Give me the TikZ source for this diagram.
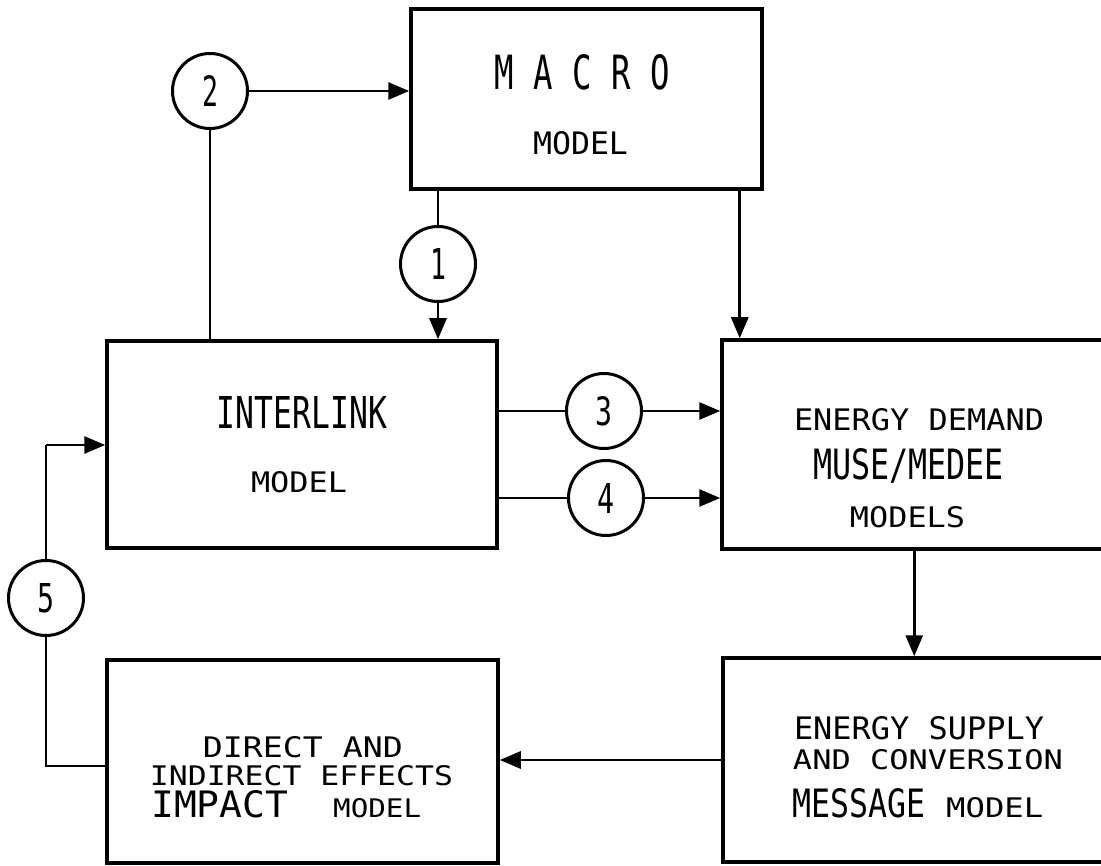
\documentclass[tikz,border=0pt]{standalone}
\usepackage{fontspec}
\setmonofont{DejaVu Sans Mono}
\usepackage{graphicx}
\usetikzlibrary{arrows.meta,calc}
\newcommand{\fitt}[3]{\resizebox{#1pt}{#2pt}{\ttfamily #3}}
\begin{document}
\begin{tikzpicture}[x=1pt,y=-1pt,
  box/.style={draw, line width=3.5pt, rectangle, inner sep=0},
  num/.style={draw, circle, line width=3pt, minimum size=75pt, inner sep=0},
  lbl/.style={inner sep=0, anchor=base},
  lblw/.style={inner sep=0, anchor=base west},
  con/.style={line width=2.8pt},
  arr/.style={con, -{Triangle[length=21pt,width=17pt]}}]
\useasboundingbox (0,0) rectangle (1101,866);
\fill[white] (0,0) rectangle (1101,866);
\clip (0,0) rectangle (1101,866);

% boxes
\node[box, minimum width=351pt, minimum height=180pt] (macro) at (586.5,99) {};
\node[box, minimum width=390pt, minimum height=207pt] (inter) at (302,444.5) {};
\node[box, minimum width=393pt, minimum height=209pt] (ed) at (918.5,444.5) {};
\node[box, minimum width=392pt, minimum height=204pt] (msg) at (919,760) {};
\node[box, minimum width=391pt, minimum height=203pt] (impact) at (302.5,761.5) {};

% labels
\node[lbl] (tm1) at (582.5,90) {\fitt{175}{35}{M A C R O}};
\node[lbl] (tm2) at (580.5,155) {\fitt{95}{23}{MODEL}};
\node[lbl] (ti1) at (302,429) {\fitt{170}{32}{INTERLINK}};
\node[lbl] (ti2) at (299,493) {\fitt{96}{21}{MODEL}};
\node[lbl] (te1) at (919,431) {\fitt{250}{22}{ENERGY DEMAND}};
\node[lbl] (te2) at (908.5,479) {\fitt{191}{31}{MUSE/MEDEE}};
\node[lbl] (te3) at (907.5,527) {\fitt{115}{21}{MODELS}};
\node[lbl] (ts1) at (919,739) {\fitt{250}{23}{ENERGY SUPPLY}};
\node[lbl] (ts2) at (928,769) {\fitt{270}{20}{AND CONVERSION}};
\node[lblw] (ts3) at (792,817) {\fitt{133}{29}{MESSAGE}};
\node[lblw] (ts4) at (946,817) {\fitt{97}{20}{MODEL}};
\node[lbl] (tp1) at (303,757) {\fitt{200}{21}{DIRECT AND}};
\node[lbl] (tp2) at (301.5,785) {\fitt{303}{20}{INDIRECT EFFECTS}};
\node[lblw] (tp3) at (151,817) {\fitt{137}{27}{IMPACT}};
\node[lblw] (tp4) at (333,817) {\fitt{88}{19}{MODEL}};

% numbered circles
\node[num] (c2) at (210,91) {\fitt{16}{31}{2}};
\node[num] (c1) at (438,264) {\fitt{16}{31}{1}};
\node[num] (c3) at (604,411) {\fitt{17}{29}{3}};
\node[num] (c4) at (606,498) {\fitt{17}{30}{4}};
\node[num] (c5) at (46,598) {\fitt{17}{29}{5}};

\coordinate (p5a) at (46,766);
\coordinate (p5b) at (46,445);

% connectors
\draw[arr] (c2.east) -- (macro.west |- c2.east);
\draw[con] (c2.south) -- (c2.south |- inter.north);
\draw[con] (macro.south -| c1.north) -- (c1.north);
\draw[arr] (c1.south) -- (c1.south |- inter.north);
\draw[arr] ([xshift=-24pt]macro.south east) -- ([xshift=-24pt]macro.south east |- ed.north);
\draw[con] (inter.east |- c3.west) -- (c3.west);
\draw[arr] (c3.east) -- (ed.west |- c3.east);
\draw[con] (inter.east |- c4.west) -- (c4.west);
\draw[arr] (c4.east) -- (ed.west |- c4.east);
\draw[arr] ([xshift=194pt]ed.south west) -- ([xshift=194pt]ed.south west |- msg.north);
\draw[arr] (msg.west) -- (msg.west -| impact.east);
\draw[con] (impact.west |- p5a) -- (p5a) -- (c5.south);
\draw[con] (c5.north) -- (p5b);
\draw[arr] (p5b) -- (inter.west |- p5b);
\end{tikzpicture}
\end{document}
